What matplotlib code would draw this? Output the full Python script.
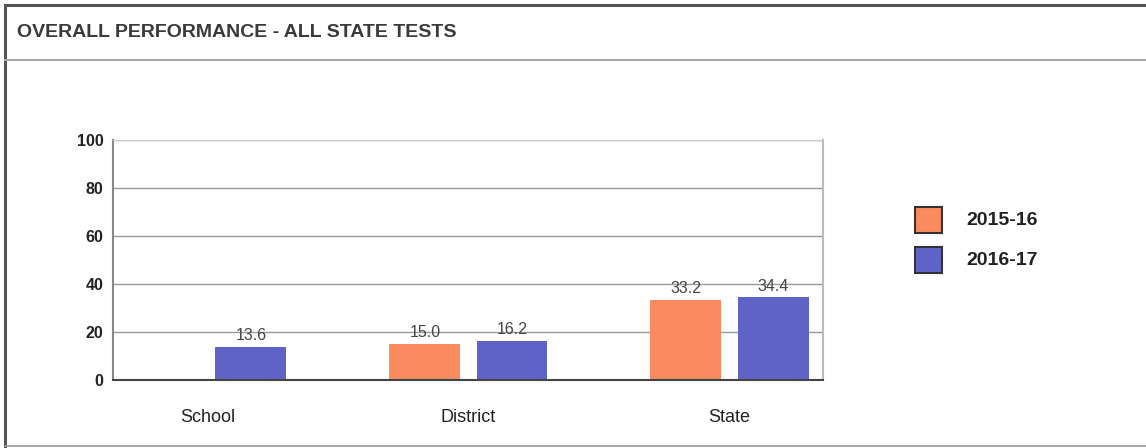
import matplotlib.pyplot as plt
import numpy as np

# values per category, None where a year has no result
categories = ["School", "District", "State"]
years = ["2015-16", "2016-17"]
scores_1516 = [None, 15.0, 33.2]
scores_1617 = [13.6, 16.2, 34.4]
y_ticks = [0, 20, 40, 60, 80, 100]

orange = "#F98B5F"
blue = "#5F63C6"
font = "Liberation Sans"

fig = plt.figure(figsize=(11.46, 4.48), dpi=100)

# outer panel frame and header separator
fig.add_artist(plt.Line2D([0.004, 1.0], [0.989, 0.989], color="#555555", lw=2.2))
fig.add_artist(plt.Line2D([0.004, 0.004], [0.004, 0.989], color="#555555", lw=2.2))
fig.add_artist(plt.Line2D([0.004, 1.0], [0.004, 0.004], color="#999999", lw=1.2))
fig.add_artist(plt.Line2D([0.004, 1.0], [0.866, 0.866], color="#AAAAAA", lw=1.5))
fig.text(0.0148, 0.928, "OVERALL PERFORMANCE - ALL STATE TESTS", fontsize=14,
         fontweight="bold", color="#3A3A3A", family=font, va="center", ha="left")

ax = fig.add_axes([0.0986, 0.152, 0.6195, 0.5355])
x = np.arange(len(categories))
w = 0.272
off = 0.1667

for vals, sign, col in [(scores_1516, -1, orange), (scores_1617, 1, blue)]:
    for xi, v in zip(x, vals):
        if v is None:
            continue
        ax.bar(xi + sign * off, v, width=w, color=col, zorder=3)
        ax.text(xi + sign * off, v + 1.6, f"{v:.1f}", ha="center", va="bottom",
                fontsize=11.5, color="#444444", family=font, zorder=4)

ax.set_xlim(-0.362, 2.358)
ax.set_ylim(0, 100)
ax.set_yticks(y_ticks)
ax.set_yticklabels([str(t) for t in y_ticks], fontsize=11.5, fontweight="bold",
                   color="#222222", family=font)
ax.set_xticks(x)
ax.set_xticklabels(categories, fontsize=13, color="#222222", family=font)
ax.tick_params(axis="y", length=0, pad=7)
ax.tick_params(axis="x", length=0, pad=21)
ax.grid(axis="y", color="#9A9A9A", lw=1.0, zorder=0)

ax.spines["left"].set_color("#888888")
ax.spines["left"].set_linewidth(1.5)
ax.spines["bottom"].set_color("#444444")
ax.spines["bottom"].set_linewidth(1.5)
ax.spines["bottom"].set_zorder(5)
ax.spines["top"].set_color("#CCCCCC")
ax.spines["right"].set_color("#BBBBBB")
ax.spines["right"].set_linewidth(1.5)

# legend drawn as squares with labels
for i, (yr, col) in enumerate(zip(years, [orange, blue])):
    yc = 1 - (220 + 40 * i) / 448
    fig.patches.append(plt.Rectangle((915 / 1146, yc - 13 / 448), 27 / 1146, 26 / 448,
                                     transform=fig.transFigure, facecolor=col,
                                     edgecolor="#333333", lw=1.5))
    fig.text(966 / 1146, yc, yr, fontsize=14, fontweight="bold", color="#222222",
             family=font, va="center", ha="left")

fig.savefig("out.png", dpi=100, facecolor="white")
